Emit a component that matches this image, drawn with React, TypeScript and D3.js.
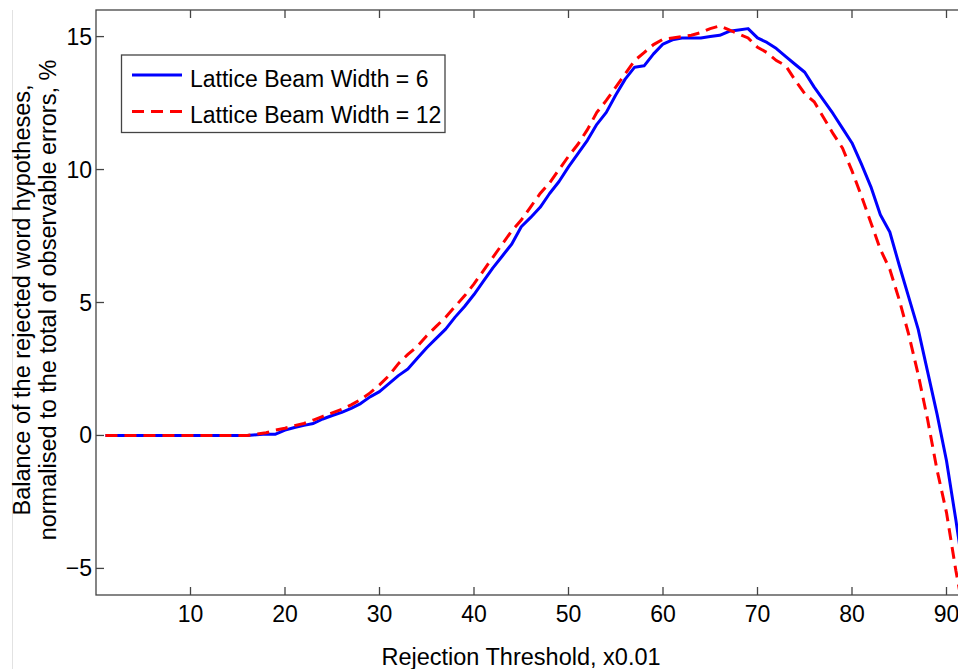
import React, { useEffect, useRef } from 'react';
import * as d3 from 'd3';

// rejection threshold (x0.01)
const thresholds = d3.range(1, 93);

const beam6 = [
  0, 0, 0, 0, 0, 0, 0, 0, 0, 0, 0, 0, 0, 0, 0, 0,
  0.03, 0.05, 0.05, 0.2, 0.3, 0.38, 0.45, 0.62, 0.75, 0.87, 1.02, 1.2, 1.45, 1.65,
  1.95, 2.25, 2.5, 2.9, 3.3, 3.65, 4.0, 4.45, 4.85, 5.3, 5.8, 6.3, 6.75, 7.2, 7.85,
  8.2, 8.58, 9.1, 9.55, 10.1, 10.6, 11.1, 11.7, 12.15, 12.8, 13.4, 13.85, 13.9, 14.35,
  14.72, 14.88, 14.95, 14.95, 14.95, 15.0, 15.05, 15.2, 15.25, 15.3, 14.95, 14.78,
  14.55, 14.25, 13.95, 13.66, 13.1, 12.6, 12.1, 11.55, 11.0, 10.2, 9.35, 8.3, 7.65,
  6.4, 5.2, 4.0, 2.4, 0.8, -0.95, -3.2, -5.6
];

const beam12 = [
  0, 0, 0, 0, 0, 0, 0, 0, 0, 0, 0, 0, 0, 0, 0, 0,
  0.05, 0.1, 0.2, 0.27, 0.37, 0.45, 0.58, 0.72, 0.85, 0.98, 1.15, 1.35, 1.6, 1.9,
  2.25, 2.7, 3.05, 3.35, 3.75, 4.1, 4.45, 4.85, 5.25, 5.7, 6.2, 6.7, 7.2, 7.7, 8.1,
  8.6, 9.1, 9.5, 10.0, 10.5, 10.95, 11.5, 12.15, 12.6, 13.1, 13.6, 14.1, 14.4, 14.7,
  14.9, 14.95, 15.0, 15.05, 15.15, 15.3, 15.4, 15.25, 15.1, 14.95, 14.6, 14.4,
  14.1, 13.9, 13.35, 12.85, 12.55, 11.95, 11.35, 10.8, 9.95, 9.0, 8.0, 7.0, 6.25,
  5.1, 3.8, 2.3, 0.6, -1.3, -2.9, -5.1, -7.0
];

const xTicks = [10, 20, 30, 40, 50, 60, 70, 80, 90];
const yTicks = [-5, 0, 5, 10, 15];

const legendLabels = ['Lattice Beam Width = 6', 'Lattice Beam Width = 12'];

const font = '"Liberation Sans", Arial, Helvetica, sans-serif';
const dash = '12,7';

export default function App() {
  const canvas = useRef<SVGSVGElement>(null);

  useEffect(() => {
    const width = 958;
    const height = 669;
    const left = 96, top = 10, bottom = 595, right = 96 + 945;

    const svg = d3.select(canvas.current);
    svg.selectAll('*').remove();
    svg.attr('width', width).attr('height', height);

    svg.append('rect').attr('width', width).attr('height', height).attr('fill', '#fff');
    svg.append('line')
      .attr('x1', 12.5).attr('x2', 12.5).attr('y1', 10).attr('y2', height)
      .attr('stroke', '#e2e2e2');

    const x = d3.scaleLinear().domain([0, 100]).range([left, right]);
    const y = d3.scaleLinear().domain([-6, 16]).range([bottom, top]);

    svg.append('clipPath').attr('id', 'plotclip')
      .append('rect')
      .attr('x', left).attr('y', top)
      .attr('width', right - left).attr('height', bottom - top);

    const line = d3.line<number>()
      .x((d, i) => x(thresholds[i]))
      .y(d => y(d));

    const plot = svg.append('g').attr('clip-path', 'url(#plotclip)');
    plot.append('path')
      .datum(beam6)
      .attr('d', line)
      .attr('fill', 'none')
      .attr('stroke', '#0000ff')
      .attr('stroke-width', 3)
      .attr('stroke-linejoin', 'round');
    plot.append('path')
      .datum(beam12)
      .attr('d', line)
      .attr('fill', 'none')
      .attr('stroke', '#ff0000')
      .attr('stroke-width', 3)
      .attr('stroke-dasharray', dash);

    // axes box, matlab style ticks pointing inward
    const axisColor = '#444';
    const g = svg.append('g');
    g.append('rect')
      .attr('x', left).attr('y', top)
      .attr('width', right - left).attr('height', bottom - top)
      .attr('fill', 'none').attr('stroke', axisColor).attr('stroke-width', 1.3);

    const xt = g.selectAll('g.xt').data(xTicks).enter().append('g').attr('class', 'xt');
    xt.append('line')
      .attr('x1', d => x(d)).attr('x2', d => x(d))
      .attr('y1', bottom).attr('y2', bottom - 8)
      .attr('stroke', axisColor).attr('stroke-width', 1.3);
    xt.append('line')
      .attr('x1', d => x(d)).attr('x2', d => x(d))
      .attr('y1', top).attr('y2', top + 8)
      .attr('stroke', axisColor).attr('stroke-width', 1.3);
    xt.append('text')
      .attr('x', d => x(d)).attr('y', bottom + 27)
      .attr('text-anchor', 'middle')
      .attr('font-family', font).attr('font-size', 23)
      .text(d => d);

    const yt = g.selectAll('g.yt').data(yTicks).enter().append('g').attr('class', 'yt');
    yt.append('line')
      .attr('x1', left).attr('x2', left + 8)
      .attr('y1', d => y(d)).attr('y2', d => y(d))
      .attr('stroke', axisColor).attr('stroke-width', 1.3);
    yt.append('text')
      .attr('x', left - 4).attr('y', d => y(d) + 8)
      .attr('text-anchor', 'end')
      .attr('font-family', font).attr('font-size', 23)
      .text(d => (d < 0 ? '\u2212' + Math.abs(d) : String(d)));

    svg.append('text')
      .attr('x', 521).attr('y', 665)
      .attr('text-anchor', 'middle')
      .attr('font-family', font).attr('font-size', 23.5)
      .text('Rejection Threshold, x0.01');

    const ylab = svg.append('text')
      .attr('transform', 'translate(0,300) rotate(-90)')
      .attr('text-anchor', 'middle')
      .attr('font-family', font).attr('font-size', 23.5);
    ylab.append('tspan').attr('x', 0).attr('y', 30).text('Balance of the rejected word hypotheses,');
    ylab.append('tspan').attr('x', 0).attr('y', 56).text('normalised to the total of observable errors, %');

    // legend
    const leg = svg.append('g');
    leg.append('rect')
      .attr('x', 121.5).attr('y', 55)
      .attr('width', 323.5).attr('height', 77.5)
      .attr('fill', '#fff').attr('stroke', axisColor).attr('stroke-width', 1.3);
    const rows = leg.selectAll('g.row').data(legendLabels).enter().append('g').attr('class', 'row');
    rows.append('line')
      .attr('x1', 132).attr('x2', 182)
      .attr('y1', (d, i) => 75 + i * 36.5).attr('y2', (d, i) => 75 + i * 36.5)
      .attr('stroke', (d, i) => (i === 0 ? '#0000ff' : '#ff0000'))
      .attr('stroke-width', 3)
      .attr('stroke-dasharray', (d, i) => (i === 0 ? null : dash));
    rows.append('text')
      .attr('x', 190).attr('y', (d, i) => 86.5 + i * 36.5)
      .attr('font-family', font).attr('font-size', 23)
      .text(d => d);
  }, []);

  return (
    <div style={{ position: 'absolute', left: 0, top: 0 }}>
      <svg ref={canvas}></svg>
    </div>
  );
}
